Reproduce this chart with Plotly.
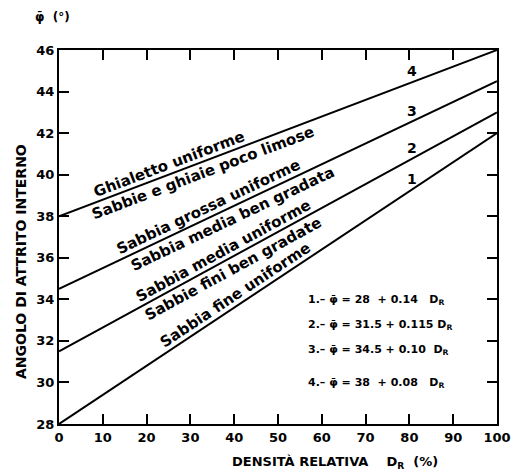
import math
import plotly.graph_objects as go

# ---- data ----
dr = [0, 100]
intercepts = [28, 31.5, 34.5, 38]
slopes = [0.14, 0.115, 0.10, 0.08]
line_ids = ["1", "2", "3", "4"]
eq_texts = ["1.– φ̄ = 28  + 0.14   D<sub>R</sub>",
            "2.– φ̄ = 31.5 + 0.115 D<sub>R</sub>",
            "3.– φ̄ = 34.5 + 0.10  D<sub>R</sub>",
            "4.– φ̄ = 38  + 0.08   D<sub>R</sub>"]
# labels: (line index, text, x position along line, side +1 above / -1 below)
soil_labels = [
    (3, "Ghialetto uniforme", 26, 1),
    (3, "Sabbie e ghiaie poco limose", 32, -1),
    (2, "Sabbia grossa uniforme", 35, 1),
    (2, "Sabbia media ben gradata", 38.5, -1),
    (1, "Sabbia media uniforme", 38.5, 1),
    (1, "Sabbie fini ben gradate", 38.5, -1),
    (0, "Sabbia fine uniforme", 41.5, 1),
]
x_ticks = list(range(0, 101, 10))
y_ticks = list(range(28, 47, 2))

W, H = 511, 470
ML, MT = 59, 50
MR = W - 497
MB = H - 424
PW, PH = W - ML - MR, H - MT - MB
XMIN, XMAX, YMIN, YMAX = 0, 100, 28, 46
ppx = PW / (XMAX - XMIN)
ppy = PH / (YMAX - YMIN)

def py_to_paper(py):
    return ((H - MB) - py) / PH

def px_to_paper(px):
    return (px - ML) / PW

FONT = "DejaVu Sans"
fig = go.Figure()
for a, b in zip(intercepts, slopes):
    fig.add_trace(go.Scatter(x=dr, y=[a + b * x for x in dr], mode="lines",
                             line=dict(color="black", width=2), showlegend=False,
                             hoverinfo="skip", cliponaxis=False))

ann = []
for idx, txt, xc, side in soil_labels:
    a, b = intercepts[idx], slopes[idx]
    ang = math.atan(b * ppy / ppx)
    d = 10 if side > 0 else -11
    ann.append(dict(x=xc, y=a + b * xc, xref="x", yref="y", text="<b>" + txt + "</b>", showarrow=False,
                    textangle=-math.degrees(ang), xshift=-d * math.sin(ang), yshift=d * math.cos(ang),
                    font=dict(family=FONT, size=15, color="black"), xanchor="center", yanchor="middle"))
for i, lid in enumerate(line_ids):
    a, b = intercepts[i], slopes[i]
    xc = 80.5
    ann.append(dict(x=xc, y=a + b * xc, xref="x", yref="y", text="<b>" + lid + "</b>", showarrow=False,
                    yshift=11, xanchor="center", yanchor="middle",
                    font=dict(family=FONT, size=14, color="black")))
eq_py = [300, 325, 350, 383]
for t, py in zip(eq_texts, eq_py):
    ann.append(dict(x=px_to_paper(306), y=py_to_paper(py), xref="paper", yref="paper", text="<b>" + t + "</b>",
                    showarrow=False, xanchor="left", yanchor="middle",
                    font=dict(family=FONT, size=11, color="black")))
ann.append(dict(x=px_to_paper(335), y=py_to_paper(462), xref="paper", yref="paper",
                text="<b>DENSITÀ RELATIVA    D<sub>R</sub>  (%)</b>", showarrow=False,
                xanchor="center", yanchor="middle",
                font=dict(family=FONT, size=13, color="black")))
ann.append(dict(x=px_to_paper(21), y=py_to_paper(262), xref="paper", yref="paper",
                text="<b>ANGOLO DI ATTRITO INTERNO</b>", showarrow=False, textangle=-90,
                xanchor="center", yanchor="middle",
                font=dict(family=FONT, size=14, color="black")))
ann.append(dict(x=px_to_paper(52), y=py_to_paper(17), xref="paper", yref="paper",
                text="<b>φ̄  (°)</b>", showarrow=False, xanchor="center", yanchor="middle",
                font=dict(family=FONT, size=12, color="black")))

axis_common = dict(showgrid=False, zeroline=False, showline=True, linecolor="black", linewidth=2,
                   ticks="inside", ticklen=10, tickwidth=2, tickcolor="black", mirror="ticks",
                   ticklabeloverflow="allow",
                   tickfont=dict(family=FONT, size=13, color="black", weight="bold"))
fig.update_layout(
    width=W, height=H, margin=dict(l=ML, r=MR, t=MT, b=MB, autoexpand=False),
    paper_bgcolor="white", plot_bgcolor="white",
    xaxis=dict(range=[XMIN, XMAX], tickvals=x_ticks, ticklabelstandoff=0, **axis_common),
    yaxis=dict(range=[YMIN, YMAX], tickvals=y_ticks, ticklabelstandoff=0, **axis_common),
    annotations=ann,
)
fig.write_html("out.html", config={"displayModeBar": False},
               post_script="document.body.style.margin='0';document.body.style.overflow='hidden';")
